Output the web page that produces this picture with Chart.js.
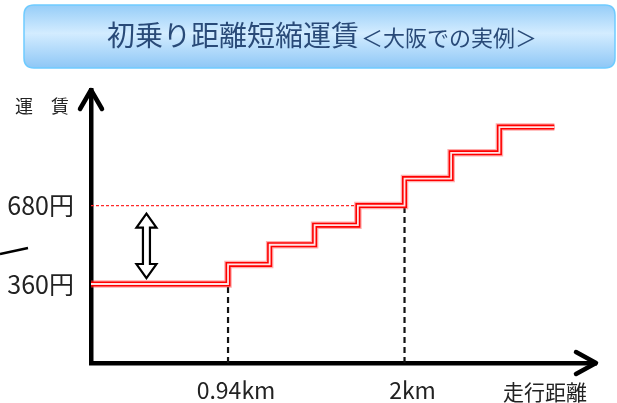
<!DOCTYPE html>
<html>
<head>
<meta charset="utf-8">
<script src="https://cdn.jsdelivr.net/npm/chart.js@4/dist/chart.umd.min.js"></script>
<style>
  html, body { margin: 0; padding: 0; background: #ffffff; }
  #wrap { width: 617px; height: 403px; position: relative; }
</style>
</head>
<body>
<div id="wrap"><canvas id="c" width="617" height="403"></canvas></div>
<script>
// ---- data ----
const stepStartKm = [0.117, 0.94, 1.19, 1.46, 1.72, 2.0, 2.28, 2.57, 2.9];
const fareLevels  = [360, 440, 520, 600, 680, 790, 895, 1000, 1000];
const xTickKm     = [0.94, 2];
const xTickLabels = ['0.94km', '2km'];
const yTickFares  = [360, 680];
const yTickLabels = ['360円', '680円'];
const axisRange   = { xMin: 0.117, xMax: 3.15, yMin: 38, yMax: 1151 };
const titleMain   = '初乗り距離短縮運賃';
const titleSub    = '＜大阪での実例＞';
const yAxisTitle  = '運　賃';
const xAxisTitle  = '走行距離';

const JP = '"Noto Sans CJK JP", "Noto Sans", sans-serif';

const stepPoints = stepStartKm.map((x, i) => ({ x: x, y: fareLevels[i] }));

const decorPlugin = {
  id: 'decor',
  beforeDraw(chart) {
    const ctx = chart.ctx;
    ctx.save();
    ctx.fillStyle = '#ffffff';
    ctx.fillRect(0, 0, chart.width, chart.height);
    // title box
    const bx = 24, by = 5, bw = 591, bh = 63, r = 10;
    const g = ctx.createLinearGradient(0, by, 0, by + bh);
    g.addColorStop(0, '#96cdf8');
    g.addColorStop(0.45, '#d3ecff');
    g.addColorStop(1, '#8ec7f6');
    ctx.beginPath();
    ctx.moveTo(bx + r, by);
    ctx.lineTo(bx + bw - r, by);
    ctx.quadraticCurveTo(bx + bw, by, bx + bw, by + r);
    ctx.lineTo(bx + bw, by + bh - r);
    ctx.quadraticCurveTo(bx + bw, by + bh, bx + bw - r, by + bh);
    ctx.lineTo(bx + r, by + bh);
    ctx.quadraticCurveTo(bx, by + bh, bx, by + bh - r);
    ctx.lineTo(bx, by + r);
    ctx.quadraticCurveTo(bx, by, bx + r, by);
    ctx.closePath();
    ctx.fillStyle = g;
    ctx.fill();
    ctx.lineWidth = 1.5;
    ctx.strokeStyle = '#6fcbff';
    ctx.stroke();
    ctx.fillStyle = '#294a78';
    ctx.textBaseline = 'alphabetic';
    ctx.textAlign = 'left';
    ctx.font = '28px ' + JP;
    ctx.fillText(titleMain, 107, 46);
    const w = ctx.measureText(titleMain).width;
    ctx.font = '22px ' + JP;
    ctx.fillText(titleSub, 107 + w + 2, 46);
    ctx.restore();
  },
  afterDraw(chart) {
    const ctx = chart.ctx;
    const a = chart.chartArea;
    const xs = chart.scales.x, ys = chart.scales.y;
    ctx.save();
    // axis arrowheads
    ctx.strokeStyle = '#000';
    ctx.lineWidth = 4.5;
    ctx.lineCap = 'round';
    ctx.lineJoin = 'round';
    ctx.beginPath();
    ctx.moveTo(a.left - 11, a.top + 19);
    ctx.lineTo(a.left, a.top);
    ctx.lineTo(a.left + 11, a.top + 19);
    ctx.stroke();
    ctx.beginPath();
    ctx.moveTo(a.right - 20, a.bottom - 11);
    ctx.lineTo(a.right, a.bottom);
    ctx.lineTo(a.right - 20, a.bottom + 11);
    ctx.stroke();
    // small slanted line at left edge
    ctx.lineWidth = 2.5;
    ctx.lineCap = 'butt';
    ctx.beginPath();
    ctx.moveTo(0, 254);
    ctx.lineTo(28, 248);
    ctx.stroke();
    // double-headed hollow arrow between the two fares
    const cx = xs.getPixelForValue(0.45);
    const top = ys.getPixelForValue(yTickFares[1]) + 8;
    const bot = ys.getPixelForValue(yTickFares[0]) - 6;
    const hw = 10, hh = 14, sw = 3.5;
    ctx.beginPath();
    ctx.moveTo(cx, top);
    ctx.lineTo(cx + hw, top + hh);
    ctx.lineTo(cx + sw, top + hh);
    ctx.lineTo(cx + sw, bot - hh);
    ctx.lineTo(cx + hw, bot - hh);
    ctx.lineTo(cx, bot);
    ctx.lineTo(cx - hw, bot - hh);
    ctx.lineTo(cx - sw, bot - hh);
    ctx.lineTo(cx - sw, top + hh);
    ctx.lineTo(cx - hw, top + hh);
    ctx.closePath();
    ctx.fillStyle = '#fff';
    ctx.fill();
    ctx.lineWidth = 2.2;
    ctx.lineJoin = 'miter';
    ctx.strokeStyle = '#000';
    ctx.stroke();
    // axis titles
    ctx.fillStyle = '#222';
    ctx.textAlign = 'left';
    ctx.textBaseline = 'middle';
    ctx.font = '18px ' + JP;
    ctx.fillText(yAxisTitle, 15, 106);
    ctx.textBaseline = 'top';
    ctx.font = '21px ' + JP;
    ctx.fillText(xAxisTitle, 503, 382);
    ctx.restore();
  }
};

new Chart(document.getElementById('c'), {
  type: 'line',
  data: {
    datasets: [
      { // halo
        data: stepPoints, stepped: 'before', borderColor: 'rgba(255,70,70,0.45)',
        borderWidth: 7.5, pointRadius: 0, fill: false, order: 5, clip: false
      },
      { // red outer
        data: stepPoints, stepped: 'before', borderColor: '#ff0000',
        borderWidth: 5, pointRadius: 0, fill: false, order: 4, clip: false
      },
      { // inner light
        data: stepPoints, stepped: 'before', borderColor: '#ffe4e4',
        borderWidth: 1.8, pointRadius: 0, fill: false, order: 3, clip: false
      },
      { // dashed drop line at 0.94km
        data: [{ x: xTickKm[0], y: axisRange.yMin }, { x: xTickKm[0], y: fareLevels[0] }],
        borderColor: '#111', borderWidth: 2.2, borderDash: [6, 4], pointRadius: 0, order: 6
      },
      { // dashed drop line at 2km
        data: [{ x: xTickKm[1], y: axisRange.yMin }, { x: xTickKm[1], y: fareLevels[4] }],
        borderColor: '#111', borderWidth: 2.2, borderDash: [6, 4], pointRadius: 0, order: 6
      },
      { // dotted guide at 680 yen
        data: [{ x: axisRange.xMin, y: yTickFares[1] }, { x: stepStartKm[4], y: yTickFares[1] }],
        borderColor: '#ff2a2a', borderWidth: 1.3, borderDash: [3, 2], pointRadius: 0, order: 7
      }
    ]
  },
  options: {
    responsive: false,
    animation: false,
    events: [],
    layout: { padding: { left: 0, top: 90, right: 21, bottom: 0 } },
    plugins: { legend: { display: false }, tooltip: { enabled: false }, title: { display: false } },
    scales: {
      x: {
        type: 'linear', min: axisRange.xMin, max: axisRange.xMax, z: 1,
        afterFit(scale) { scale.height = 40; },
        afterBuildTicks(scale) { scale.ticks = xTickKm.map(v => ({ value: v })); },
        grid: { display: false, drawTicks: false },
        border: { display: true, color: '#000', width: 4.5 },
        ticks: {
          padding: 13, labelOffset: 8, autoSkip: false, maxRotation: 0,
          color: '#222', font: { family: JP, size: 23 },
          callback: (v) => { const i = xTickKm.indexOf(v); return i >= 0 ? xTickLabels[i] : ''; }
        }
      },
      y: {
        type: 'linear', min: axisRange.yMin, max: axisRange.yMax, z: 1,
        afterFit(scale) { scale.width = 91; },
        afterBuildTicks(scale) { scale.ticks = yTickFares.map(v => ({ value: v })); },
        grid: { display: false, drawTicks: false },
        border: { display: true, color: '#000', width: 4.5 },
        ticks: {
          padding: 17, autoSkip: false,
          color: '#222', font: { family: JP, size: 25 },
          callback: (v) => { const i = yTickFares.indexOf(v); return i >= 0 ? yTickLabels[i] : ''; }
        }
      }
    }
  },
  plugins: [decorPlugin]
});
</script>
</body>
</html>
